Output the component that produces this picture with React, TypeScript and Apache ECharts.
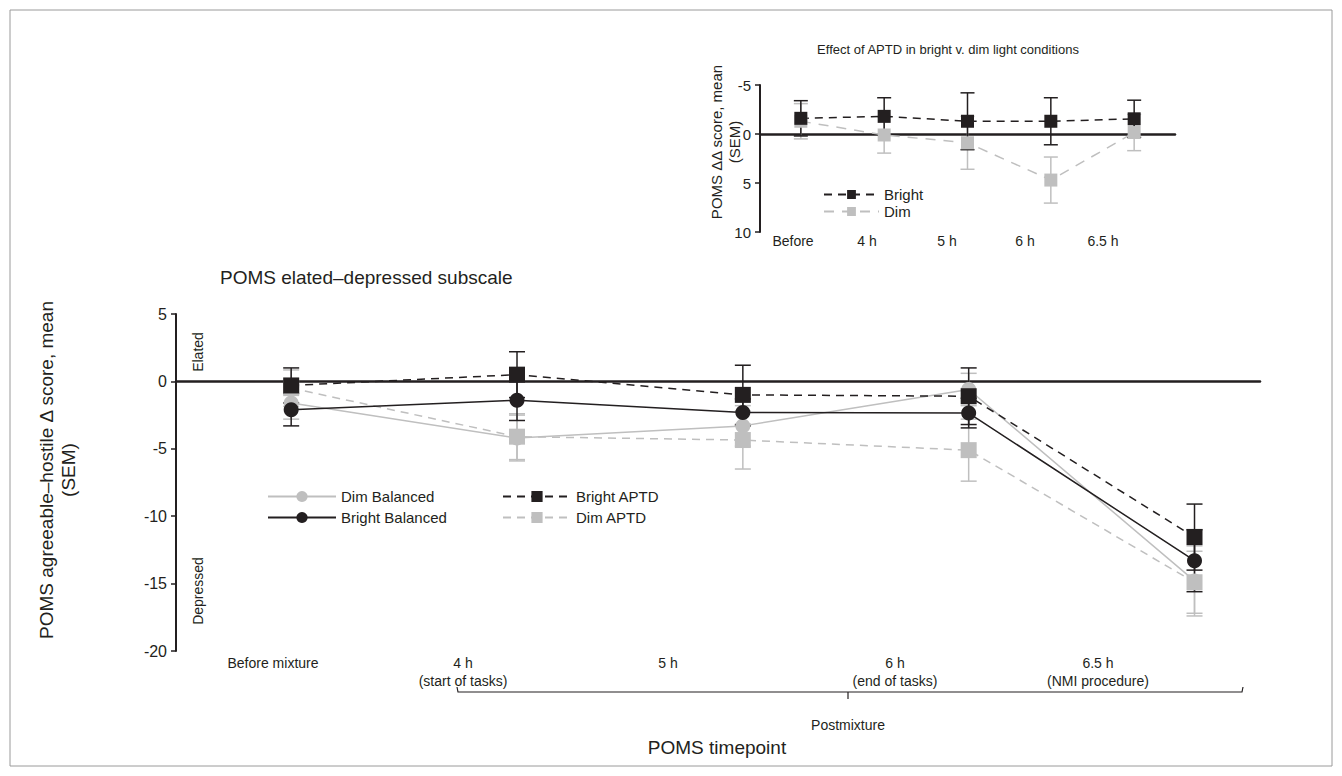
import React, { useEffect, useRef } from "react";
import * as echarts from "echarts";

// ---------- DATA ----------
const timepoints = ["Before mixture", "4 h", "5 h", "6 h", "6.5 h"];
const subLabels = ["", "(start of tasks)", "", "(end of tasks)", "(NMI procedure)"];

const dimBalanced = [-1.6, -4.2, -3.3, -0.6, -14.8];
const dimBalancedSem = [1.2, 1.7, 1.5, 1.2, 2.6];
const brightBalanced = [-2.1, -1.4, -2.3, -2.35, -13.3];
const brightBalancedSem = [1.2, 1.5, 1.0, 1.1, 2.3];
const brightAPTD = [-0.3, 0.5, -1.0, -1.1, -11.55];
const brightAPTDSem = [1.3, 1.7, 2.2, 2.1, 2.45];
const dimAPTD = [-0.5, -4.1, -4.35, -5.1, -14.9];
const dimAPTDSem = [1.35, 1.7, 2.15, 2.3, 2.3];

const insetLabels = ["Before", "4 h", "5 h", "6 h", "6.5 h"];
const insetBright = [-1.6, -1.8, -1.3, -1.3, -1.55];
const insetBrightSem = [1.8, 1.9, 2.9, 2.4, 1.9];
const insetDim = [-1.3, 0.1, 0.9, 4.7, -0.15];
const insetDimSem = [1.8, 1.85, 2.7, 2.35, 1.85];

// ---------- STYLE / LAYOUT ----------
const BLACK = "#231f20";
const GRAY = "#bfbfbf";
const FONT = "'Liberation Sans', Arial, Helvetica, sans-serif";
const mainLabelX = [273, 463, 668, 895, 1098];
const insetLabelX = [793, 867, 947, 1025, 1103];

const pts = (vals: number[]) => vals.map((v, i) => [i, v]);
const errs = (vals: number[], sem: number[]) => vals.map((v, i) => [i, v - sem[i], v + sem[i]]);

function errSeries(name: string, vals: number[], sem: number[], color: string, axis: number, cap: number) {
  return {
    type: "custom",
    name,
    xAxisIndex: axis,
    yAxisIndex: axis,
    z: 1,
    silent: true,
    encode: { x: 0, y: [1, 2] },
    data: errs(vals, sem),
    renderItem: (params: any, api: any) => {
      const x = api.value(0);
      const p1 = api.coord([x, api.value(1)]);
      const p2 = api.coord([x, api.value(2)]);
      const style = { stroke: color, lineWidth: 1.5, fill: "none" };
      return {
        type: "group",
        children: [
          { type: "line", shape: { x1: p1[0], y1: p1[1], x2: p2[0], y2: p2[1] }, style },
          { type: "line", shape: { x1: p1[0] - cap, y1: p1[1], x2: p1[0] + cap, y2: p1[1] }, style },
          { type: "line", shape: { x1: p2[0] - cap, y1: p2[1], x2: p2[0] + cap, y2: p2[1] }, style },
        ],
      };
    },
  };
}

function lineSeries(name: string, vals: number[], color: string, dashed: any, symbol: string, size: number, axis: number) {
  return {
    type: "line",
    name,
    xAxisIndex: axis,
    yAxisIndex: axis,
    z: 3,
    data: pts(vals),
    symbol,
    symbolSize: size,
    showSymbol: true,
    lineStyle: { color, width: 1.5, type: dashed },
    itemStyle: { color, borderWidth: 0 },
  };
}

export default function App() {
  const ref = useRef<HTMLDivElement>(null);
  useEffect(() => {
    const chart = echarts.init(ref.current!, null, { renderer: "svg" });
    const textStyle = (s: any) => ({ fill: BLACK, fontFamily: FONT, ...s });
    const graphics: any[] = [
      { type: "rect", shape: { x: 10, y: 10, width: 1322, height: 756 }, style: { fill: "none", stroke: "#9a9a9a", lineWidth: 1 } },
      { type: "text", x: 220, y: 277, style: textStyle({ text: "POMS elated\u2013depressed subscale", fontSize: 19, textVerticalAlign: "middle" }) },
      { type: "text", x: 46, y: 470, rotation: Math.PI / 2, style: textStyle({ text: "POMS agreeable\u2013hostile \u0394 score, mean", fontSize: 19, textAlign: "center", textVerticalAlign: "middle" }) },
      { type: "text", x: 68, y: 470, rotation: Math.PI / 2, style: textStyle({ text: "(SEM)", fontSize: 19, textAlign: "center", textVerticalAlign: "middle" }) },
      { type: "text", x: 198, y: 352, rotation: Math.PI / 2, style: textStyle({ text: "Elated", fontSize: 14, textAlign: "center", textVerticalAlign: "middle" }) },
      { type: "text", x: 198, y: 591, rotation: Math.PI / 2, style: textStyle({ text: "Depressed", fontSize: 14, textAlign: "center", textVerticalAlign: "middle" }) },
      { type: "polyline", shape: { points: [[457, 687], [458, 692], [1242, 692], [1243, 687]] }, style: { stroke: BLACK, lineWidth: 1.2, fill: "none" } },
      { type: "line", shape: { x1: 848, y1: 692, x2: 848, y2: 699 }, style: { stroke: BLACK, lineWidth: 1.2 } },
      { type: "text", x: 848, y: 725, style: textStyle({ text: "Postmixture", fontSize: 14, textAlign: "center", textVerticalAlign: "middle" }) },
      { type: "text", x: 717, y: 747, style: textStyle({ text: "POMS timepoint", fontSize: 19, textAlign: "center", textVerticalAlign: "middle" }) },
      { type: "text", x: 948, y: 49, style: textStyle({ text: "Effect of APTD in bright v. dim light conditions", fontSize: 13, textAlign: "center", textVerticalAlign: "middle" }) },
      { type: "text", x: 716, y: 142, rotation: Math.PI / 2, style: textStyle({ text: "POMS \u0394\u0394 score, mean", fontSize: 15, textAlign: "center", textVerticalAlign: "middle" }) },
      { type: "text", x: 734, y: 142, rotation: Math.PI / 2, style: textStyle({ text: "(SEM)", fontSize: 15, textAlign: "center", textVerticalAlign: "middle" }) },
    ];
    timepoints.forEach((t, i) => {
      graphics.push({ type: "text", x: mainLabelX[i], y: 663, style: textStyle({ text: t, fontSize: 14, textAlign: "center", textVerticalAlign: "middle" }) });
      if (subLabels[i]) {
        graphics.push({ type: "text", x: mainLabelX[i], y: 681, style: textStyle({ text: subLabels[i], fontSize: 14, textAlign: "center", textVerticalAlign: "middle" }) });
      }
    });
    insetLabels.forEach((t, i) => {
      graphics.push({ type: "text", x: insetLabelX[i], y: 241, style: textStyle({ text: t, fontSize: 14, textAlign: "center", textVerticalAlign: "middle" }) });
    });

    const axisCommonY = {
      type: "value",
      interval: 5,
      axisLine: { show: true, onZero: false, lineStyle: { color: BLACK, width: 2 } },
      axisTick: { show: true, length: 5, lineStyle: { color: BLACK, width: 1.5 } },
      axisLabel: { color: BLACK, fontFamily: FONT, margin: 9 },
      splitLine: { show: false },
    };
    const axisCommonX = {
      type: "value",
      axisLine: { show: true, onZero: true, lineStyle: { color: BLACK, width: 2.5 } },
      axisTick: { show: false },
      axisLabel: { show: false },
      splitLine: { show: false },
    };

    const option: any = {
      animation: false,
      backgroundColor: "#fff",
      textStyle: { fontFamily: FONT },
      grid: [
        { left: 176, top: 314, width: 1084, height: 337 },
        { left: 760, top: 85, width: 415, height: 147 },
      ],
      xAxis: [
        { ...axisCommonX, gridIndex: 0, min: -0.51, max: 4.29 },
        { ...axisCommonX, gridIndex: 1, min: -0.49, max: 4.49 },
      ],
      yAxis: [
        { ...axisCommonY, gridIndex: 0, min: -20, max: 5, axisLabel: { ...axisCommonY.axisLabel, fontSize: 16 } },
        { ...axisCommonY, gridIndex: 1, min: -5, max: 10, inverse: true, axisLabel: { ...axisCommonY.axisLabel, fontSize: 15 } },
      ],
      legend: [
        {
          data: ["Dim Balanced", "Bright Balanced"],
          orient: "vertical",
          left: 262,
          top: 484,
          itemWidth: 68,
          itemHeight: 14,
          itemGap: 6,
          textStyle: { color: BLACK, fontSize: 15, fontFamily: FONT },
        },
        {
          data: ["Bright APTD", "Dim APTD"],
          orient: "vertical",
          left: 497,
          top: 484,
          itemWidth: 68,
          itemHeight: 14,
          itemGap: 6,
          textStyle: { color: BLACK, fontSize: 15, fontFamily: FONT },
        },
        {
          data: ["Bright", "Dim"],
          orient: "vertical",
          left: 818,
          top: 182,
          itemWidth: 55,
          itemHeight: 11,
          itemGap: 2,
          textStyle: { color: BLACK, fontSize: 15, fontFamily: FONT },
        },
      ],
      graphic: graphics,
      series: [
        errSeries("e1", dimBalanced, dimBalancedSem, GRAY, 0, 8),
        errSeries("e2", dimAPTD, dimAPTDSem, GRAY, 0, 8),
        errSeries("e3", brightBalanced, brightBalancedSem, BLACK, 0, 8),
        errSeries("e4", brightAPTD, brightAPTDSem, BLACK, 0, 8),
        errSeries("e5", insetDim, insetDimSem, GRAY, 1, 7),
        errSeries("e6", insetBright, insetBrightSem, BLACK, 1, 7),
        lineSeries("Dim Balanced", dimBalanced, GRAY, "solid", "circle", 15, 0),
        lineSeries("Dim APTD", dimAPTD, GRAY, [8, 6], "rect", 16, 0),
        lineSeries("Bright Balanced", brightBalanced, BLACK, "solid", "circle", 15, 0),
        lineSeries("Bright APTD", brightAPTD, BLACK, [8, 6], "rect", 16, 0),
        lineSeries("Dim", insetDim, GRAY, [10, 8], "rect", 13, 1),
        lineSeries("Bright", insetBright, BLACK, [8, 6], "rect", 13, 1),
      ],
    };
    chart.setOption(option);
    return () => chart.dispose();
  }, []);
  return (
    <div
      ref={ref}
      style={{ position: "fixed", left: 0, top: 0, width: 1342, height: 776, background: "#fff" }}
    />
  );
}
